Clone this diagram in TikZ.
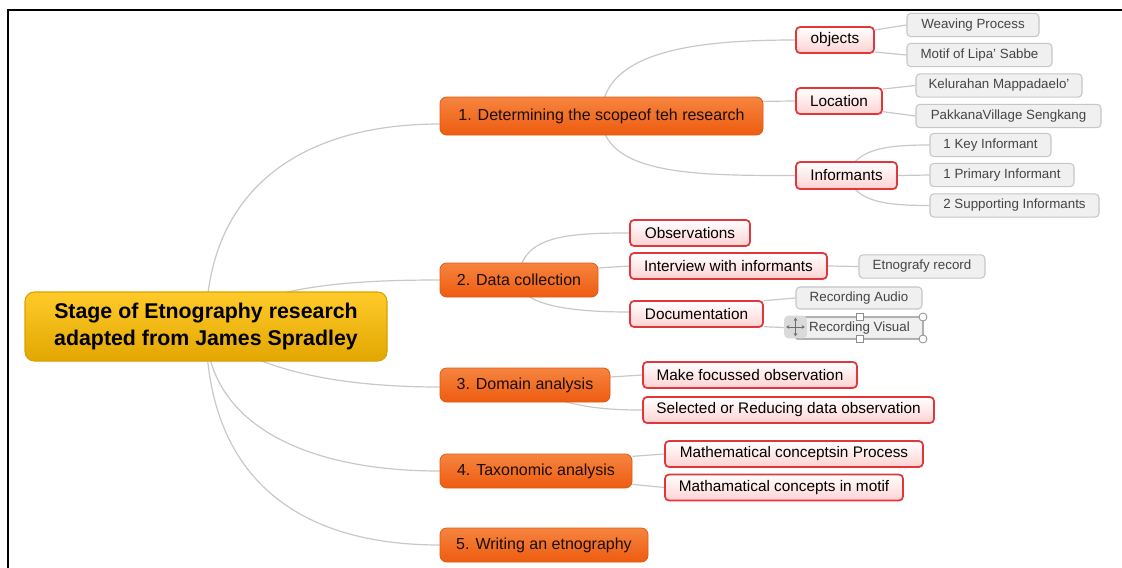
\documentclass[tikz,border=0pt]{standalone}
\usepackage{fontspec}
\setmainfont{Liberation Sans}
\usetikzlibrary{backgrounds,arrows.meta}
\definecolor{rootTop}{HTML}{FFCB2A}
\definecolor{rootBot}{HTML}{E2A600}
\definecolor{rootLine}{HTML}{D9A200}
\definecolor{oneTop}{HTML}{F6843F}
\definecolor{oneBot}{HTML}{EE5C10}
\definecolor{oneLine}{HTML}{DD5A12}
\definecolor{oneText}{HTML}{1A0E06}
\definecolor{twoLine}{HTML}{E2363A}
\definecolor{twoBot}{HTML}{FFD2D2}
\definecolor{threeLine}{HTML}{C6C6C6}
\definecolor{threeFill}{HTML}{F0F0F0}
\definecolor{threeText}{HTML}{444444}
\definecolor{connGray}{HTML}{C8C8C8}
\definecolor{selGray}{HTML}{8C8C8C}
\definecolor{moveFill}{HTML}{DADADA}
\definecolor{moveArrow}{HTML}{6E6E6E}
\begin{document}
\begin{tikzpicture}[x=0.75pt,y=-0.75pt,
  rootbox/.style={draw=rootLine, line width=0.8pt, rounded corners=7pt, top color=rootTop, bottom color=rootBot, font=\fontsize{16}{20}\selectfont\bfseries, align=center, inner sep=0pt},
  lvone/.style={draw=oneLine, line width=0.6pt, rounded corners=5pt, top color=oneTop, bottom color=oneBot, font=\fontsize{12}{14}\selectfont, text=oneText, inner sep=0pt, minimum height=25.5pt},
  lvtwo/.style={draw=twoLine, line width=1.3pt, rounded corners=3pt, top color=white, bottom color=twoBot, font=\fontsize{11.5}{13}\selectfont, inner sep=0pt, minimum height=19.5pt},
  lvthree/.style={draw=threeLine, line width=0.8pt, rounded corners=3pt, fill=threeFill, font=\fontsize{10}{12}\selectfont, text=threeText, inner sep=0pt, minimum height=17.5pt},
  conn/.style={draw=connGray, line width=0.9pt},
  handlesq/.style={draw=selGray, fill=white, line width=0.6pt, minimum size=5pt, inner sep=0pt},
  handlecirc/.style={draw=selGray, fill=white, line width=0.6pt, circle, minimum size=6pt, inner sep=0pt}
]
\useasboundingbox (0,0) rectangle (1122,568);
% frame
\draw[line width=1.5pt] (8,568) -- (8,10) -- (1122,10);

% root
\node[rootbox, minimum width=271.5pt, minimum height=51.75pt] (root) at (206,326.5) {Stage of Etnography research\\adapted from James Spradley};

% level 1
\node[lvone, minimum width=242.25pt, minimum height=28.5pt] (n1) at (601.5,116) {1. Determining the scopeof teh research};
\node[lvone, minimum width=118.5pt] (n2) at (519,280) {2. Data collection};
\node[lvone, minimum width=127.5pt] (n3) at (525,385) {3. Domain analysis};
\node[lvone, minimum width=144pt] (n4) at (536,471) {4. Taxonomic analysis};
\node[lvone, minimum width=156pt] (n5) at (544,545) {5. Writing an etnography};

% level 2
\node[lvtwo, minimum width=58.5pt] (obj) at (835,40) {objects};
\node[lvtwo, minimum width=64.5pt] (loc) at (839,101) {Location};
\node[lvtwo, minimum width=75.75pt, minimum height=20.25pt] (inf) at (846.5,175.5) {Informants};
\node[lvtwo, minimum width=90pt] (obs) at (690,233) {Observations};
\node[lvtwo, minimum width=147.75pt] (int) at (728.5,266) {Interview with informants};
\node[lvtwo, minimum width=99.75pt] (doc) at (696.5,314) {Documentation};
\node[lvtwo, minimum width=160.5pt] (mfo) at (750,375) {Make focussed observation};
\node[lvtwo, minimum width=218.25pt] (sel) at (788.5,410) {Selected or Reducing data observation};
\node[lvtwo, minimum width=193.5pt] (mcp) at (794,454) {Mathematical conceptsin Process};
\node[lvtwo, minimum width=178.5pt] (mcm) at (784,487.5) {Mathamatical concepts in motif};

% level 3
\node[lvthree, minimum width=99pt] (wea) at (973,25) {Weaving Process};
\node[lvthree, minimum width=108.75pt] (mot) at (979.5,55) {Motif of Lipa' Sabbe};
\node[lvthree, minimum width=124.5pt] (kel) at (999,85.5) {Kelurahan Mappadaelo'};
\node[lvthree, minimum width=138.75pt] (pak) at (1008.5,116) {PakkanaVillage Sengkang};
\node[lvthree, minimum width=90.75pt] (key) at (990.5,145) {1 Key Informant};
\node[lvthree, minimum width=108pt] (pri) at (1002,175) {1 Primary Informant};
\node[lvthree, minimum width=126.75pt] (sup) at (1014.5,205.5) {2 Supporting Informants};
\node[lvthree, minimum width=94.5pt] (etn) at (922,266.5) {Etnografy record};
\node[lvthree, minimum width=94.5pt, minimum height=16.5pt] (aud) at (859,298) {Recording Audio};
\node[lvthree, draw=selGray, line width=1pt, rounded corners=1pt, minimum width=95.25pt, minimum height=16.5pt] (vis) at (859.5,328) {Recording Visual};

% selection handles
\node[handlesq] (hT) at (860,317) {};
\node[handlesq] (hB) at (860,339) {};
\node[handlecirc] (hTR) at (923,317) {};
\node[handlecirc] (hBR) at (923,339) {};
\node[fill=moveFill, rounded corners=3pt, minimum size=17pt, inner sep=0pt] (mv) at (795.5,327) {};
\draw[moveArrow, line width=0.6pt, {Stealth[length=2.4pt,width=2.8pt]}-{Stealth[length=2.4pt,width=2.8pt]}] ([xshift=-7pt]mv.center) -- ([xshift=7pt]mv.center);
\draw[moveArrow, line width=0.6pt, {Stealth[length=2.4pt,width=2.8pt]}-{Stealth[length=2.4pt,width=2.8pt]}] ([yshift=-7pt]mv.center) -- ([yshift=7pt]mv.center);

\begin{scope}[on background layer]
% root connectors
\draw[conn] (root.center) .. controls +(0,-136) and +(-140,0) .. ([yshift=-6pt]n1.west);
\draw[conn] (root.center) .. controls +(54,-41) and +(-90,0) .. (n2.west);
\draw[conn] (root.center) .. controls +(44,44) and +(-100,0) .. ([yshift=-1.5pt]n3.west);
\draw[conn] (root.center) .. controls +(0,94) and +(-140,0) .. (n4.west);
\draw[conn] (root.center) .. controls +(0,144) and +(-150,0) .. (n5.west);
% level1 -> level2
\draw[conn] (n1.center) .. controls +(0,-66) and +(-96,0) .. (obj.west);
\draw[conn] ([yshift=11pt]n1.east) -- (loc.west);
\draw[conn] (n1.center) .. controls +(0,60) and +(-96,0) .. (inf.west);
\draw[conn] (n2.center) .. controls +(0,-45) and +(-60,0) .. (obs.west);
\draw[conn] ([yshift=9pt]n2.east) -- (int.west);
\draw[conn] (n2.center) .. controls +(0,25) and +(-60,0) .. ([yshift=1.5pt]doc.west);
\draw[conn] ([yshift=6pt]n3.east) -- (mfo.west);
\draw[conn] (n3.center) .. controls +(40,22) and +(-40,0) .. (sel.west);
\draw[conn] ([yshift=11pt]n4.east) -- (mcp.west);
\draw[conn] ([yshift=-10pt]n4.east) -- (mcm.west);
% level2 -> level3
\draw[conn] ([yshift=7.5pt]obj.east) -- (wea.west);
\draw[conn] ([yshift=-9pt]obj.east) -- (mot.west);
\draw[conn] ([yshift=9pt]loc.east) -- (kel.west);
\draw[conn] ([yshift=-8pt]loc.east) -- (pak.west);
\draw[conn] (inf.center) .. controls +(10,-25) and +(-50,0) .. (key.west);
\draw[conn] (inf.east) -- (pri.west);
\draw[conn] (inf.center) .. controls +(10,25) and +(-50,0) .. (sup.west);
\draw[conn] (int.east) -- (etn.west);
\draw[conn] ([yshift=10pt]doc.east) -- (aud.west);
\draw[conn] ([yshift=-9.5pt]doc.east) -- (vis.west);
\end{scope}
\end{tikzpicture}
\end{document}
